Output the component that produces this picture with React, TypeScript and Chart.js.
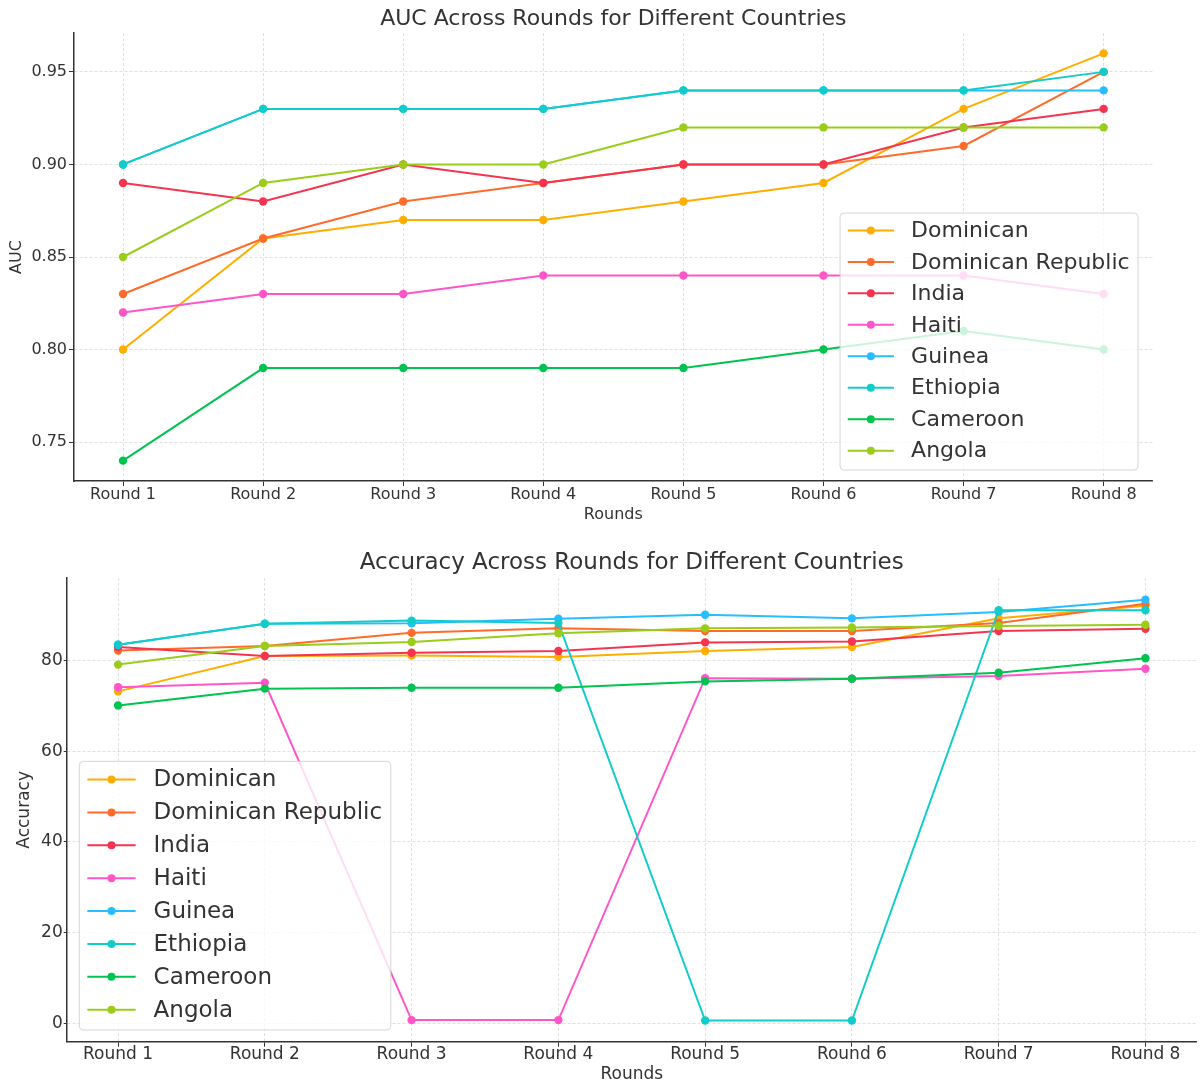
import React, { useEffect, useRef } from "react";
import { Chart, registerables } from "chart.js";

Chart.register(...registerables);
Chart.defaults.font.family = "'DejaVu Sans', 'Liberation Sans', sans-serif";

const ROUNDS = ["Round 1", "Round 2", "Round 3", "Round 4", "Round 5", "Round 6", "Round 7", "Round 8"];
const COUNTRIES = ["Dominican", "Dominican Republic", "India", "Haiti", "Guinea", "Ethiopia", "Cameroon", "Angola"];
const COLORS = ["#FFAE00", "#FF6B2B", "#F5344F", "#FF55C8", "#28BDFE", "#11CCC8", "#00C350", "#9ACD1A"];

// AUC per round
const AUC_DOMINICAN = [0.80, 0.86, 0.87, 0.87, 0.88, 0.89, 0.93, 0.96];
const AUC_DOMINICAN_REPUBLIC = [0.83, 0.86, 0.88, 0.89, 0.90, 0.90, 0.91, 0.95];
const AUC_INDIA = [0.89, 0.88, 0.90, 0.89, 0.90, 0.90, 0.92, 0.93];
const AUC_HAITI = [0.82, 0.83, 0.83, 0.84, 0.84, 0.84, 0.84, 0.83];
const AUC_GUINEA = [0.90, 0.93, 0.93, 0.93, 0.94, 0.94, 0.94, 0.94];
const AUC_ETHIOPIA = [0.90, 0.93, 0.93, 0.93, 0.94, 0.94, 0.94, 0.95];
const AUC_CAMEROON = [0.74, 0.79, 0.79, 0.79, 0.79, 0.80, 0.81, 0.80];
const AUC_ANGOLA = [0.85, 0.89, 0.90, 0.90, 0.92, 0.92, 0.92, 0.92];

// Accuracy per round
const ACC_DOMINICAN = [73.2, 81.0, 81.1, 80.8, 82.1, 83.0, 89.3, 92.1];
const ACC_DOMINICAN_REPUBLIC = [82.2, 83.2, 86.1, 87.1, 86.5, 86.5, 88.3, 92.5];
const ACC_INDIA = [83.0, 81.0, 81.7, 82.1, 84.0, 84.2, 86.5, 87.0];
const ACC_HAITI = [74.1, 75.1, 0.7, 0.7, 76.1, 76.0, 76.6, 78.2];
const ACC_GUINEA = [83.5, 88.1, 88.2, 89.2, 90.1, 89.3, 90.7, 93.4];
const ACC_ETHIOPIA = [83.5, 88.1, 88.8, 88.3, 0.6, 0.6, 91.1, 91.1];
const ACC_CAMEROON = [70.1, 73.8, 74.0, 74.0, 75.4, 76.0, 77.3, 80.5];
const ACC_ANGOLA = [79.1, 83.2, 84.1, 86.0, 87.1, 87.3, 87.6, 87.9];

const AUC_TICKS = [0.75, 0.8, 0.85, 0.9, 0.95];
const ACC_TICKS = [0, 20, 40, 60, 80];

const AUC_SERIES = [AUC_DOMINICAN, AUC_DOMINICAN_REPUBLIC, AUC_INDIA, AUC_HAITI, AUC_GUINEA, AUC_ETHIOPIA, AUC_CAMEROON, AUC_ANGOLA];
const ACC_SERIES = [ACC_DOMINICAN, ACC_DOMINICAN_REPUBLIC, ACC_INDIA, ACC_HAITI, ACC_GUINEA, ACC_ETHIOPIA, ACC_CAMEROON, ACC_ANGOLA];

const TEXT = "#333333";
const FONT = "'DejaVu Sans', 'Liberation Sans', sans-serif";

type Cfg = {
  top: number;
  height: number;
  title: string;
  yLabel: string;
  series: number[][];
  yTicks: number[];
  yMin: number;
  yMax: number;
  yFmt: (v: number) => string;
  padTop: number;
  padRight: number;
  yWidth: number;
  xHeight: number;
  titleY: number;
  xLabelY: number;
  yLabelX: number;
  tickSize: number;
  titleSize: number;
  legendSize: number;
  yTickLen: number;
  yTickPad: number;
  xTickPad: number;
  legendCorner: "br" | "bl";
  legendDx: number;
  legendDy: number;
};

function decorPlugin(cfg: Cfg) {
  return {
    id: "decor",
    afterDraw(chart: any) {
      const { ctx, chartArea: a } = chart;
      ctx.save();
      ctx.fillStyle = TEXT;
      ctx.textAlign = "center";
      ctx.textBaseline = "middle";
      const cx = (a.left + a.right) / 2;
      ctx.font = `${cfg.titleSize}px ${FONT}`;
      ctx.fillText(cfg.title, cx, cfg.titleY);
      ctx.font = `${cfg.tickSize}px ${FONT}`;
      ctx.fillText("Rounds", cx, cfg.xLabelY);
      ctx.save();
      ctx.translate(cfg.yLabelX, (a.top + a.bottom) / 2);
      ctx.rotate(-Math.PI / 2);
      ctx.fillText(cfg.yLabel, 0, 0);
      ctx.restore();

      // legend
      const fs = cfg.legendSize;
      ctx.font = `${fs}px ${FONT}`;
      let maxW = 0;
      COUNTRIES.forEach((c) => (maxW = Math.max(maxW, ctx.measureText(c).width)));
      const textStart = 3.23 * fs;
      const w = textStart + maxW + 0.38 * fs;
      const rowH = 1.43 * fs;
      const topPad = 0.79 * fs;
      const botPad = 0.88 * fs;
      const h = topPad + (COUNTRIES.length - 1) * rowH + botPad;
      let left: number, top: number;
      const bottom = a.bottom - cfg.legendDy;
      top = bottom - h;
      if (cfg.legendCorner === "br") {
        left = a.right - cfg.legendDx - w;
      } else {
        left = a.left + cfg.legendDx;
      }
      const r = 4;
      ctx.beginPath();
      ctx.moveTo(left + r, top);
      ctx.lineTo(left + w - r, top);
      ctx.quadraticCurveTo(left + w, top, left + w, top + r);
      ctx.lineTo(left + w, top + h - r);
      ctx.quadraticCurveTo(left + w, top + h, left + w - r, top + h);
      ctx.lineTo(left + r, top + h);
      ctx.quadraticCurveTo(left, top + h, left, top + h - r);
      ctx.lineTo(left, top + r);
      ctx.quadraticCurveTo(left, top, left + r, top);
      ctx.closePath();
      ctx.fillStyle = "rgba(255,255,255,0.8)";
      ctx.fill();
      ctx.strokeStyle = "rgba(204,204,204,0.8)";
      ctx.lineWidth = 1;
      ctx.stroke();

      ctx.textAlign = "left";
      COUNTRIES.forEach((c, i) => {
        const y = top + topPad + i * rowH;
        const hs = left + 0.35 * fs;
        const he = hs + 2.1 * fs;
        ctx.strokeStyle = COLORS[i];
        ctx.lineWidth = 2;
        ctx.beginPath();
        ctx.moveTo(hs, y);
        ctx.lineTo(he, y);
        ctx.stroke();
        ctx.fillStyle = COLORS[i];
        ctx.beginPath();
        ctx.arc((hs + he) / 2, y, 4, 0, Math.PI * 2);
        ctx.fill();
        ctx.fillStyle = TEXT;
        ctx.fillText(c, left + textStart, y + 1);
      });
      ctx.restore();
    },
  };
}

function LineChart({ cfg }: { cfg: Cfg }) {
  const ref = useRef<HTMLCanvasElement | null>(null);
  useEffect(() => {
    if (!ref.current) return;
    const n = cfg.series.length;
    const chart = new Chart(ref.current, {
      type: "line",
      data: {
        datasets: cfg.series.map((s, i) => ({
          label: COUNTRIES[i],
          data: s.map((v, j) => ({ x: j, y: v })),
          borderColor: COLORS[i],
          backgroundColor: COLORS[i],
          borderWidth: 2,
          pointRadius: 4.2,
          pointHoverRadius: 4.2,
          pointBorderWidth: 0,
          tension: 0,
          fill: false,
          order: n - 1 - i,
        })),
      },
      options: {
        responsive: false,
        animation: false,
        events: [],
        layout: { padding: { top: cfg.padTop, right: cfg.padRight, left: 0, bottom: 0 } },
        plugins: {
          legend: { display: false },
          title: { display: false },
          tooltip: { enabled: false },
        },
        scales: {
          x: {
            type: "linear",
            min: -0.35,
            max: ROUNDS.length - 1 + 0.35,
            afterBuildTicks: (s: any) => {
              s.ticks = ROUNDS.map((_, i) => ({ value: i }));
            },
            afterFit: (s: any) => {
              s.height = cfg.xHeight;
            },
            ticks: {
              callback: (v: any) => ROUNDS[Math.round(Number(v))],
              color: TEXT,
              font: { size: cfg.tickSize, family: FONT },
              padding: cfg.xTickPad,
              maxRotation: 0,
              autoSkip: false,
            },
            grid: {
              color: "#d8d8d8",
              lineWidth: 0.8,
              tickLength: 5,
              tickColor: TEXT,
              tickWidth: 1,
              tickBorderDash: [],
            },
            border: { color: TEXT, width: 1.5, dash: [3, 2] },
          },
          y: {
            type: "linear",
            min: cfg.yMin,
            max: cfg.yMax,
            afterBuildTicks: (s: any) => {
              s.ticks = cfg.yTicks.map((v) => ({ value: v }));
            },
            afterFit: (s: any) => {
              s.width = cfg.yWidth;
            },
            ticks: {
              callback: (v: any) => cfg.yFmt(Number(v)),
              color: TEXT,
              font: { size: cfg.tickSize, family: FONT },
              padding: cfg.yTickPad,
            },
            grid: {
              color: "#d8d8d8",
              lineWidth: 0.8,
              tickLength: cfg.yTickLen,
              tickColor: TEXT,
              tickWidth: 1,
              tickBorderDash: [],
            },
            border: { color: TEXT, width: 1.5, dash: [3, 2] },
          },
        },
      } as any,
      plugins: [decorPlugin(cfg)],
    });
    return () => chart.destroy();
  }, []);
  return (
    <canvas
      ref={ref}
      width={1201}
      height={cfg.height}
      style={{ position: "absolute", left: 0, top: cfg.top, width: 1201, height: cfg.height }}
    />
  );
}

const TOP_CFG: Cfg = {
  top: 0,
  height: 540,
  title: "AUC Across Rounds for Different Countries",
  yLabel: "AUC",
  series: AUC_SERIES,
  yTicks: AUC_TICKS,
  yMin: 0.729,
  yMax: 0.971,
  yFmt: (v) => v.toFixed(2),
  padTop: 33,
  padRight: 48.3,
  yWidth: 74,
  xHeight: 59,
  titleY: 19,
  xLabelY: 515,
  yLabelX: 17,
  tickSize: 16,
  titleSize: 22,
  legendSize: 22,
  yTickLen: 5,
  yTickPad: 2,
  xTickPad: -1,
  legendCorner: "br",
  legendDx: 14.7,
  legendDy: 11,
};

const BOTTOM_CFG: Cfg = {
  top: 540,
  height: 542,
  title: "Accuracy Across Rounds for Different Countries",
  yLabel: "Accuracy",
  series: ACC_SERIES,
  yTicks: ACC_TICKS,
  yMin: -4.06,
  yMax: 98.2,
  yFmt: (v) => String(Math.round(v)),
  padTop: 38,
  padRight: 4.2,
  yWidth: 66.7,
  xHeight: 40.3,
  titleY: 23,
  xLabelY: 535,
  yLabelX: 25,
  tickSize: 17,
  titleSize: 23,
  legendSize: 23,
  yTickLen: 3,
  yTickPad: 1,
  xTickPad: -2,
  legendCorner: "bl",
  legendDx: 12.6,
  legendDy: 11.7,
};

export default function App() {
  return (
    <div style={{ position: "absolute", left: 0, top: 0, width: 1201, height: 1082, background: "#ffffff" }}>
      <LineChart cfg={TOP_CFG} />
      <LineChart cfg={BOTTOM_CFG} />
    </div>
  );
}
